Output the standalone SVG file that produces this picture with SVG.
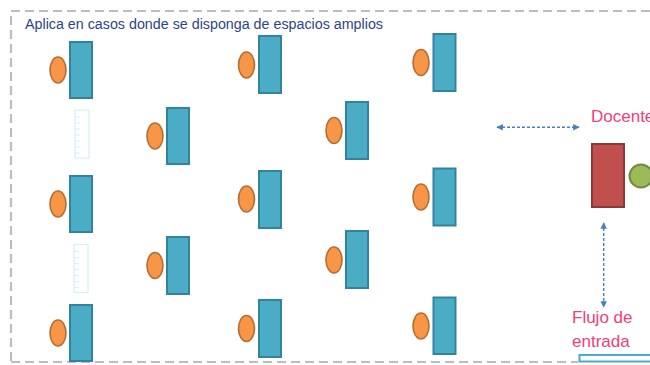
<svg xmlns="http://www.w3.org/2000/svg" width="650" height="365" viewBox="0 0 650 365">
<defs>
<style>
.desk{fill:#4bacc6;stroke:#31849b;stroke-width:2}
.head{fill:#f79646;stroke:#b66d31;stroke-width:1.6}
.ruler{fill:none;stroke:#d4f1f7;stroke-width:1.2}
.lbl{font-family:"Liberation Sans",Arial,sans-serif;fill:#f0407a;font-size:17px}
.conn{stroke:#4a7ebb;stroke-width:1.4;stroke-dasharray:3,2;fill:none}
</style>
<marker id="ah" viewBox="0 0 10 10" refX="9" refY="5" markerWidth="4.6" markerHeight="4.6" orient="auto-start-reverse" markerUnits="strokeWidth">
<path d="M0,0 L10,5 L0,10 z" fill="#4a7ebb"/>
</marker>
<g id="ruler-shape">
<rect x="0" y="0" width="14" height="48" class="ruler"/>
<path d="M0,7 h5 M0,13 h5 M0,19 h5 M0,25 h5 M0,31 h5 M0,37 h5 M0,43 h5" class="ruler"/>
</g>
</defs>
<rect width="650" height="365" fill="#ffffff"/>
<path d="M11,361 V11 H660 M11,362 H578" fill="none" stroke="#bdbdbd" stroke-width="2.2" stroke-dasharray="9,5"/>
<text x="25" y="29" font-family="'Liberation Sans',Arial,sans-serif" font-size="14" fill="#2c4685" textLength="358" lengthAdjust="spacingAndGlyphs">Aplica en casos donde se disponga de espacios amplios</text>

<g id="s1"><ellipse class="head" cx="58" cy="70" rx="8" ry="13"/><rect class="desk" x="70" y="42" width="22" height="56"/></g>
<g id="s2"><ellipse class="head" cx="58" cy="204" rx="8" ry="13"/><rect class="desk" x="70" y="176" width="22" height="56"/></g>
<g id="s3"><ellipse class="head" cx="58" cy="333" rx="8" ry="13"/><rect class="desk" x="70" y="305" width="22" height="56"/></g>

<g id="s4"><ellipse class="head" cx="155" cy="136" rx="8" ry="13"/><rect class="desk" x="167" y="108" width="22" height="56"/></g>
<g id="s5"><ellipse class="head" cx="155" cy="265.5" rx="8" ry="13"/><rect class="desk" x="167" y="237" width="22" height="57"/></g>

<g id="s6"><ellipse class="head" cx="246.5" cy="65" rx="8" ry="13"/><rect class="desk" x="259" y="36" width="22" height="57"/></g>
<g id="s7"><ellipse class="head" cx="246.5" cy="199" rx="8" ry="13"/><rect class="desk" x="259" y="171" width="22" height="57"/></g>
<g id="s8"><ellipse class="head" cx="246.5" cy="328.5" rx="8" ry="13"/><rect class="desk" x="259" y="300" width="22" height="57"/></g>

<g id="s9"><ellipse class="head" cx="334" cy="130.5" rx="8" ry="13"/><rect class="desk" x="346" y="102" width="22" height="57"/></g>
<g id="s10"><ellipse class="head" cx="334" cy="260" rx="8" ry="13"/><rect class="desk" x="346" y="231" width="22" height="57"/></g>

<g id="s11"><ellipse class="head" cx="421" cy="62.5" rx="8" ry="13"/><rect class="desk" x="433.5" y="34" width="22" height="57"/></g>
<g id="s12"><ellipse class="head" cx="421" cy="197" rx="8" ry="13"/><rect class="desk" x="433.5" y="168.5" width="22" height="57"/></g>
<g id="s13"><ellipse class="head" cx="421" cy="326" rx="8" ry="13"/><rect class="desk" x="433.5" y="297.5" width="22" height="56.5"/></g>

<g id="ruler1"><use href="#ruler-shape" x="75" y="110"/></g>
<g id="ruler2"><use href="#ruler-shape" x="74" y="244.5"/></g>

<g id="docente">
<text class="lbl" x="591" y="122">Docente</text>
<rect x="592" y="144" width="32" height="63" fill="#c0504d" stroke="#8c3836" stroke-width="2"/>
<circle cx="641" cy="176" r="11.5" fill="#9bbb59" stroke="#71893f" stroke-width="2"/>
</g>

<g id="entrada">
<text class="lbl" x="572" y="323">Flujo de</text>
<text class="lbl" x="572" y="347">entrada</text>
<rect x="579.5" y="355" width="80" height="6.5" fill="#ffffff" stroke="#4bacc6" stroke-width="2"/>
</g>

<g id="connectors">
<line class="conn" x1="497" y1="127.3" x2="579" y2="127.3" marker-start="url(#ah)" marker-end="url(#ah)"/>
<line class="conn" x1="603.7" y1="223" x2="603.7" y2="307" marker-start="url(#ah)" marker-end="url(#ah)"/>
</g>
</svg>
